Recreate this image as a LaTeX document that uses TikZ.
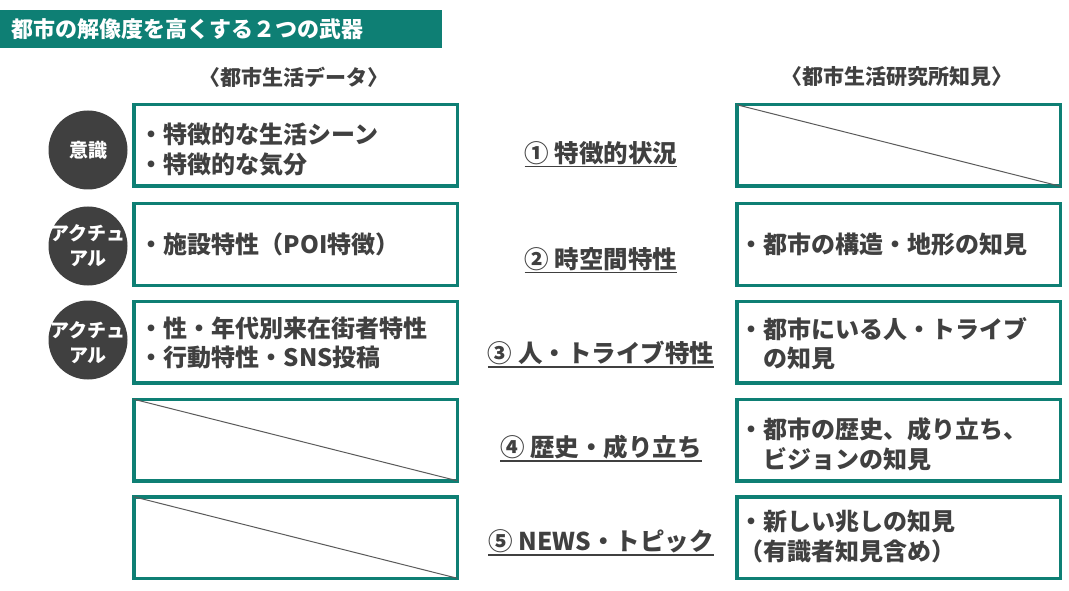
\documentclass[tikz,border=0pt]{standalone}
\usepackage{fontspec}
\setmainfont{Noto Sans CJK JP}
\definecolor{tealc}{HTML}{0E7F74}
\definecolor{darkc}{HTML}{404040}
\definecolor{linec}{HTML}{5A5A5A}
\begin{document}
\begin{tikzpicture}[x=1pt,y=-1pt,
  every node/.style={inner sep=0pt,outer sep=0pt},
  greenbox/.style={draw=tealc,line width=3.5pt,minimum width=323.5pt,minimum height=81.5pt,fill=white},
  boxtext/.style={anchor=west,align=left,text=darkc,font=\bfseries\fontsize{24}{29.5}\selectfont},
  midlabel/.style={text=darkc,font=\bfseries\fontsize{24.5}{26}\selectfont},
  headtext/.style={text=darkc,font=\bfseries\fontsize{21}{24}\selectfont},
  darkdot/.style={circle,fill=darkc,minimum size=79pt},
  dottext/.style={text=white,align=center,font=\bfseries\fontsize{19}{25}\selectfont},
  slash/.style={draw=linec,line width=1pt},
  uline/.style={draw=darkc,line width=1.5pt}
]
\useasboundingbox (0,0) rectangle (1069,591);
% title
\node[fill=tealc,text=white,inner xsep=12pt,text width=418pt,minimum height=38pt,align=left,
  font=\bfseries\fontsize{22}{24}\selectfont] (title) at (221,29) {都市の解像度を高くする２つの武器};
% headers
\node[headtext] (hl) at (294,77) {〈都市生活データ〉};
\node[headtext] (hr) at (897,77) {〈都市生活研究所知見〉};
% left boxes
\node[greenbox] (L1) at (295.5,145.5) {};
\node[greenbox] (L2) at (295.5,244.5) {};
\node[greenbox] (L3) at (295.5,342) {};
\node[greenbox] (L4) at (295.5,440) {};
\node[greenbox] (L5) at (295.5,537.5) {};
% right boxes
\node[greenbox] (R1) at (898.5,145.5) {};
\node[greenbox] (R2) at (898.5,244.5) {};
\node[greenbox] (R3) at (898.5,342) {};
\node[greenbox] (R4) at (898.5,440) {};
\node[greenbox] (R5) at (898.5,537.5) {};
% empty-box slashes
\draw[slash] (R1.north west) -- (R1.south east);
\draw[slash] (L4.north west) -- (L4.south east);
\draw[slash] (L5.north west) -- (L5.south east);
% left texts
\node[boxtext] (lt1) at ([xshift=6pt,yshift=-4pt]L1.west) {・特徴的な生活シーン\\・特徴的な気分};
\node[boxtext] (lt2) at ([xshift=6pt,yshift=0pt]L2.west) {・施設特性（POI特徴）};
\node[boxtext] (lt3) at ([xshift=6pt,yshift=-1pt]L3.west) {・性・年代別来在街者特性\\・行動特性・SNS投稿};
% right texts
\node[boxtext] (rt2) at ([xshift=3pt,yshift=0pt]R2.west) {・都市の構造・地形の知見};
\node[boxtext] (rt3) at ([xshift=3pt,yshift=-1.5pt]R3.west) {・都市にいる人・トライブ\\\phantom{・}の知見};
\node[boxtext] (rt4) at ([xshift=3pt,yshift=-4pt]R4.west) {・都市の歴史、成り立ち、\\\phantom{・}ビジョンの知見};
\node[boxtext] (rt5) at ([xshift=3pt,yshift=1pt]R5.west) {・新しい兆しの知見\\（有識者知見含め）};
% circles
\node[darkdot] (c1) at (88,150) {};
\node[darkdot] (c2) at (88,246) {};
\node[darkdot] (c3) at (88,340) {};
\node[dottext] (ct1) at (c1) {意識};
\node[dottext] (ct2) at ([yshift=0pt]c2) {アクチュ\\アル};
\node[dottext] (ct3) at ([yshift=-3pt]c3) {アクチュ\\アル};
% middle labels
\node[midlabel] (m1) at (601,153) {① 特徴的状況};
\node[midlabel] (m2) at (601,259) {② 時空間特性};
\node[midlabel] (m3) at (601,353) {③ 人・トライブ特性};
\node[midlabel] (m4) at (601,447) {④ 歴史・成り立ち};
\node[midlabel] (m5) at (601,541) {⑤ NEWS・トピック};
\foreach \m in {m1,m2,m3,m4,m5}{
  \draw[uline] ([yshift=-2pt]\m.south west) -- ([yshift=-2pt]\m.south east);
}
\end{tikzpicture}
\end{document}
